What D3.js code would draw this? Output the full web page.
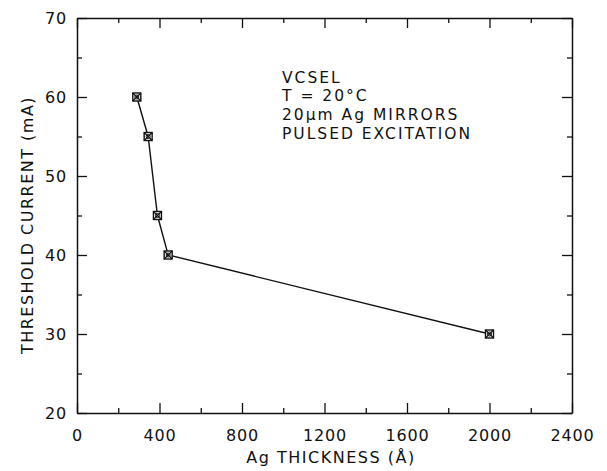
<!DOCTYPE html>
<html>
<head>
<meta charset="utf-8">
<script src="https://cdn.jsdelivr.net/npm/d3@7"></script>
<style>
body { margin: 0; background: #fff; }
text { font-family: "DejaVu Sans", sans-serif; fill: #111; }
</style>
</head>
<body>
<div id="chart"></div>
<script>
// Ag thickness (Å) vs threshold current (mA)
const thickness = [290, 345, 390, 442, 2000];
const current = [60, 55, 45, 40, 30];
const xTicks = [0, 400, 800, 1200, 1600, 2000, 2400];
const yTicks = [20, 30, 40, 50, 60, 70];
const notes = ['VCSEL', 'T = 20°C', '20μm Ag MIRRORS', 'PULSED EXCITATION'];

const width = 607, height = 471;
const margin = {top: 18, left: 77, bottom: 58, right: 35};
const w = width - margin.left - margin.right;
const h = height - margin.top - margin.bottom;

let svg = d3.select('#chart').append('svg')
    .attr('width', width)
    .attr('height', height);

let g = svg.append('g').attr('transform', 'translate(' + margin.left + ',' + margin.top + ')');

let x = d3.scaleLinear().domain([0, 2400]).range([0, w]);
let y = d3.scaleLinear().domain([20, 70]).range([h, 0]);

//----- axes, ticks pointing in -----
const minorX = d3.range(0, 2401, 200);
const minorY = d3.range(20, 71, 5);

function tickSize(v, majors) { return majors.includes(v) ? -10 : -5; }

let xb = g.append('g').attr('transform', 'translate(0,' + h + ')')
    .call(d3.axisBottom(x).tickValues(minorX).tickSizeOuter(0).tickPadding(11)
        .tickFormat(d => xTicks.includes(d) ? d : ''));
xb.selectAll('.tick line').attr('y2', d => tickSize(d, xTicks));

let xt = g.append('g')
    .call(d3.axisTop(x).tickValues(minorX).tickSizeOuter(0).tickFormat(''));
xt.selectAll('.tick line').attr('y2', d => -tickSize(d, xTicks));

let yl = g.append('g')
    .call(d3.axisLeft(y).tickValues(minorY).tickSizeOuter(0).tickPadding(4)
        .tickFormat(d => yTicks.includes(d) ? d : ''));
yl.selectAll('.tick line').attr('x2', d => -tickSize(d, yTicks));

let yr = g.append('g').attr('transform', 'translate(' + w + ',0)')
    .call(d3.axisRight(y).tickValues(minorY).tickSizeOuter(0).tickFormat(''));
yr.selectAll('.tick line').attr('x2', d => tickSize(d, yTicks));

g.selectAll('.domain').attr('stroke', '#111').attr('stroke-width', 1.5);
g.selectAll('.tick line').attr('stroke', '#111').attr('stroke-width', 1.3);
g.selectAll('.tick text')
    .attr('font-family', '"DejaVu Sans", sans-serif')
    .attr('font-size', 16)
    .attr('letter-spacing', 0.8)
    .attr('fill', '#111');

//----- labels -----
svg.append('text')
    .attr('transform', 'translate(33,' + 225 + ') rotate(-90)')
    .attr('text-anchor', 'middle')
    .attr('font-size', 16)
    .attr('letter-spacing', 1.5)
    .text('THRESHOLD CURRENT (mA)');

svg.append('text')
    .attr('x', 331)
    .attr('y', 463)
    .attr('text-anchor', 'middle')
    .attr('font-size', 16)
    .attr('letter-spacing', 1.5)
    .text('Ag THICKNESS (Å)');

g.selectAll('.note').data(notes).enter().append('text')
    .attr('class', 'note')
    .attr('x', 205)
    .attr('y', (d, i) => 64.5 + i * 18.7)
    .attr('font-size', 15.5)
    .attr('letter-spacing', 2)
    .text(d => d);

//----- line + markers -----
let pts = thickness.map((d, i) => [d, current[i]]);

g.append('path')
    .datum(pts)
    .attr('fill', 'none')
    .attr('stroke', '#111')
    .attr('stroke-width', 1.4)
    .attr('d', d3.line().x(d => x(d[0])).y(d => y(d[1])));

let m = g.selectAll('.pt').data(pts).enter().append('g')
    .attr('class', 'pt')
    .attr('transform', d => 'translate(' + x(d[0]) + ',' + y(d[1]) + ')');
m.append('rect').attr('x', -4).attr('y', -4).attr('width', 8).attr('height', 8)
    .attr('fill', '#fff').attr('stroke', '#111').attr('stroke-width', 1.4);
m.append('path').attr('d', 'M-4,-4L4,4M-4,4L4,-4').attr('stroke', '#111').attr('stroke-width', 1.2);
m.append('circle').attr('r', 2).attr('fill', 'none').attr('stroke', '#111').attr('stroke-width', 1);
</script>
</body>
</html>
